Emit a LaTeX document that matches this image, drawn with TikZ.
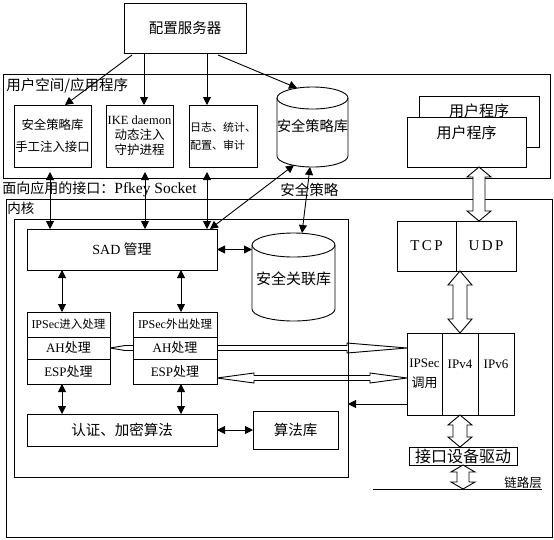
\documentclass[tikz,border=0pt]{standalone}
\usepackage{fontspec}
\setmainfont{Liberation Serif}
\newfontfamily\cjk{Noto Sans CJK SC}
\usetikzlibrary{calc, arrows.meta}
\newcommand{\fsize}[1]{\fontsize{#1}{#1}\selectfont}
% hollow double arrows: from, to, shaft half width, head half width, head length
\newcommand{\vhollow}[5]{%
  \draw[hollow] let \p1=(#1), \p2=(#2) in
    (\p1) -- (\x1+#4,\y1-#5) -- (\x1+#3,\y1-#5) -- (\x1+#3,\y2+#5) -- (\x1+#4,\y2+#5) -- (\x1,\y2)
    -- (\x1-#4,\y2+#5) -- (\x1-#3,\y2+#5) -- (\x1-#3,\y1-#5) -- (\x1-#4,\y1-#5) -- cycle;}
\newcommand{\hhollow}[5]{%
  \draw[hollow] let \p1=(#1), \p2=(#2) in
    (\p1) -- (\x1+#5,\y1+#4) -- (\x1+#5,\y1+#3) -- (\x2-#5,\y1+#3) -- (\x2-#5,\y1+#4) -- (\x2,\y1)
    -- (\x2-#5,\y1-#4) -- (\x2-#5,\y1-#3) -- (\x1+#5,\y1-#3) -- (\x1+#5,\y1-#4) -- cycle;}
\tikzset{
    box/.style={draw, rectangle, fill=white, inner sep=1pt, outer sep=0pt, align=center},
    lbl/.style={inner sep=0pt, anchor=west},
    hollow/.style={draw, fill=white},
    >={Triangle[length=8pt,width=8pt]},
}

\begin{document}
\begin{tikzpicture}[x=1pt, y=-1pt, line width=0.9pt]
    \useasboundingbox (0,0) rectangle (554,539);

    \node[box, minimum width=546pt, minimum height=338pt] (kernel) at (279,368) {};
    \node[box, minimum width=547pt, minimum height=104pt] (userspace) at (276.5,126) {};
    \node[lbl, font=\cjk\fsize{14.5}] (userlbl) at (6,86) {用户空间/应用程序};
    \node[lbl, font=\cjk\fsize{14}] (apilbl) at (2,189) {面向应用的接口：{\rmfamily\fsize{15.5}Pfkey Socket}};
    \node[lbl, font=\cjk\fsize{14.5}] (splbl) at (280,190) {安全策略};
    \node[lbl, font=\cjk\fsize{13.5}] (kernlbl) at (7,208) {内核};

    % user space
    \node[box, minimum width=122pt, minimum height=50pt, font=\cjk\fsize{14.5}] (server) at (185,28) {配置服务器};
    \node[box, minimum width=77pt, minimum height=62pt, font=\cjk\fontsize{12.4}{22}\selectfont] (manual) at (52.5,136) {安全策略库\\手工注入接口};
    \node[box, minimum width=67pt, minimum height=62pt, font=\cjk\fontsize{12.5}{15}\selectfont] (ike) at (139.5,136) {{\rmfamily IKE daemon}\\动态注入\\守护进程};
    \node[box, minimum width=68pt, minimum height=62pt, font=\cjk\fontsize{11}{18}\selectfont, align=left] (logbox) at (223,136) {日志、统计、\\配置、审计};

    \draw (277,98) -- (277,156) arc[start angle=180, end angle=0, x radius=35.5, y radius=11] -- (348,98);
    \draw (312.5,98) ellipse [x radius=35.5, y radius=11];
    \node[font=\cjk\fsize{14.2}] (spd) at (312.5,126) {安全策略库};
    \coordinate (spd top) at (297,88);
    \coordinate (spd bot1) at (294,165);
    \coordinate (spd bot2) at (310,167);

    \node[box, minimum width=120pt, minimum height=51pt] (userprog2) at (479,121.5) {};
    \node[font=\cjk\fsize{15}] (userprog2lbl) at (479,111) {用户程序};
    \node[box, minimum width=119pt, minimum height=50pt, text depth=20pt, font=\cjk\fsize{15}] (userprog) at (466.5,142) {用户程序};

    % hollow arrows
    \vhollow{[xshift=12.5pt]userprog.south}{[xshift=12.5pt]userprog.south |- 0,221}{6pt}{12pt}{10pt}
    \draw[hollow] (110,348) -- (125,345.5) -- (347,345.5) -- (347,343) -- (407,348)
        -- (347,353) -- (347,350.5) -- (125,350.5) -- cycle;
    \hhollow{217,378}{407,378}{2.5pt}{5pt}{37pt}

    % kernel
    \node[box, fill=none, minimum width=334pt, minimum height=258pt] (core) at (181,348) {};
    \node[box, minimum width=190pt, minimum height=41pt, font=\cjk\fsize{14}] (sad) at (122,249.5) {{\rmfamily SAD} 管理};

    \draw (252,245) -- (252,309) arc[start angle=180, end angle=0, x radius=41.5, y radius=12] -- (335,245);
    \draw (293.5,245) ellipse [x radius=41.5, y radius=12];
    \node[font=\cjk\fsize{15}] (sadb) at (293.5,279) {安全关联库};
    \coordinate (sadb top) at (302,233);
    \coordinate (sadb west) at (252,249.5);

    \node[box, minimum width=83pt, minimum height=25pt, font=\cjk\fsize{11.5}] (inhead) at (68.5,324.5) {{\rmfamily\fsize{12}IPSec}进入处理};
    \node[box, minimum width=83pt, minimum height=22pt, font=\cjk\fsize{13}] (inah) at (68.5,348) {{\rmfamily AH}处理};
    \node[box, minimum width=83pt, minimum height=25pt, font=\cjk\fsize{13}] (inesp) at (68.5,371.5) {{\rmfamily ESP}处理};
    \node[box, minimum width=84pt, minimum height=25pt, font=\cjk\fsize{11.5}] (outhead) at (175,324.5) {{\rmfamily\fsize{12}IPSec}外出处理};
    \node[box, minimum width=84pt, minimum height=22pt, font=\cjk\fsize{13}] (outah) at (175,348) {{\rmfamily AH}处理};
    \node[box, minimum width=84pt, minimum height=25pt, font=\cjk\fsize{13}] (outesp) at (175,371.5) {{\rmfamily ESP}处理};

    \node[box, minimum width=190pt, minimum height=32pt, font=\cjk\fsize{14.5}] (auth) at (122,430) {认证、加密算法};
    \node[box, minimum width=85pt, minimum height=38pt, font=\cjk\fsize{14.5}] (alglib) at (295.5,430) {算法库};

    % protocol stack
    \node[box, minimum width=59pt, minimum height=50pt, font=\rmfamily\fsize{15}] (tcp) at (426.5,246) {T\,C\,P};
    \node[box, minimum width=60pt, minimum height=50pt, font=\rmfamily\fsize{15}] (udp) at (486,246) {U\,D\,P};
    \node[box, minimum width=35pt, minimum height=82pt, font=\cjk\fontsize{13}{20}\selectfont] (ipsec) at (424.5,374) {{\rmfamily IPSec}\\调用};
    \node[box, minimum width=36pt, minimum height=82pt, font=\rmfamily\fontsize{13}{20}\selectfont] (ipv4) at (460,374) {IPv4\\\mbox{}};
    \node[box, minimum width=36pt, minimum height=82pt, font=\rmfamily\fontsize{13}{20}\selectfont] (ipv6) at (496,374) {IPv6\\\mbox{}};
    \node[box, minimum width=108pt, minimum height=18pt, inner sep=0pt, font=\cjk\fsize{16}] (driver) at (463,456) {接口设备驱动};
    \draw (373,489) -- (542,489);
    \coordinate (link) at (463,489);
    \node[font=\cjk\fsize{12.5}, anchor=base, inner sep=0pt] (linklbl) at (523,487) {链路层};

    \vhollow{ipv4.north |- tcp.south}{ipv4.north}{7pt}{12pt}{14pt}
    \vhollow{ipv4.south}{ipv4.south |- driver.north}{7pt}{12pt}{10pt}
    \vhollow{driver.south}{link}{6pt}{12pt}{7pt}

    % arrows
    \draw[->] ([xshift=-53pt,yshift=-2pt]server.south) -- ([xshift=12.5pt]manual.north);
    \draw[->] ([xshift=-41pt]server.south) -- ([xshift=-41pt]server.south |- ike.north);
    \draw[->] ([xshift=22pt]server.south) -- ([xshift=22pt]server.south |- logbox.north);
    \draw[->] ([xshift=33pt,yshift=-2pt]server.south) -- (spd top);

    \draw[<->] ([xshift=-2.5pt,yshift=-5pt]manual.south) -- ([xshift=-2.5pt]manual.south |- sad.north);
    \draw[<->] ([xshift=5.5pt,yshift=-5pt]ike.south) -- ([xshift=5.5pt]ike.south |- sad.north);
    \draw[<->] ([xshift=-16pt,yshift=-5pt]logbox.south) -- ([xshift=-16pt]logbox.south |- sad.north);
    \draw[<->] (spd bot1) -- ([xshift=-7pt]sad.north east);
    \draw[<->] (spd bot2) -- (sadb top);
    \draw[<->] (sad.east) -- (sadb west);

    \draw[<->] ([xshift=-6.5pt]inhead.north |- sad.south) -- ([xshift=-6.5pt]inhead.north);
    \draw[<->] ([xshift=6pt]outhead.north |- sad.south) -- ([xshift=6pt]outhead.north);
    \draw[<->] ([xshift=-6.5pt]inesp.south) -- ([xshift=-6.5pt]inesp.south |- auth.north);
    \draw[<->] ([xshift=6pt]outesp.south) -- ([xshift=6pt]outesp.south |- auth.north);
    \draw[<->] (auth.east) -- (alglib.west);
    \draw[->] ([yshift=-30pt]ipsec.west) -- ([yshift=-30pt]ipsec.west -| core.east);
\end{tikzpicture}
\end{document}
